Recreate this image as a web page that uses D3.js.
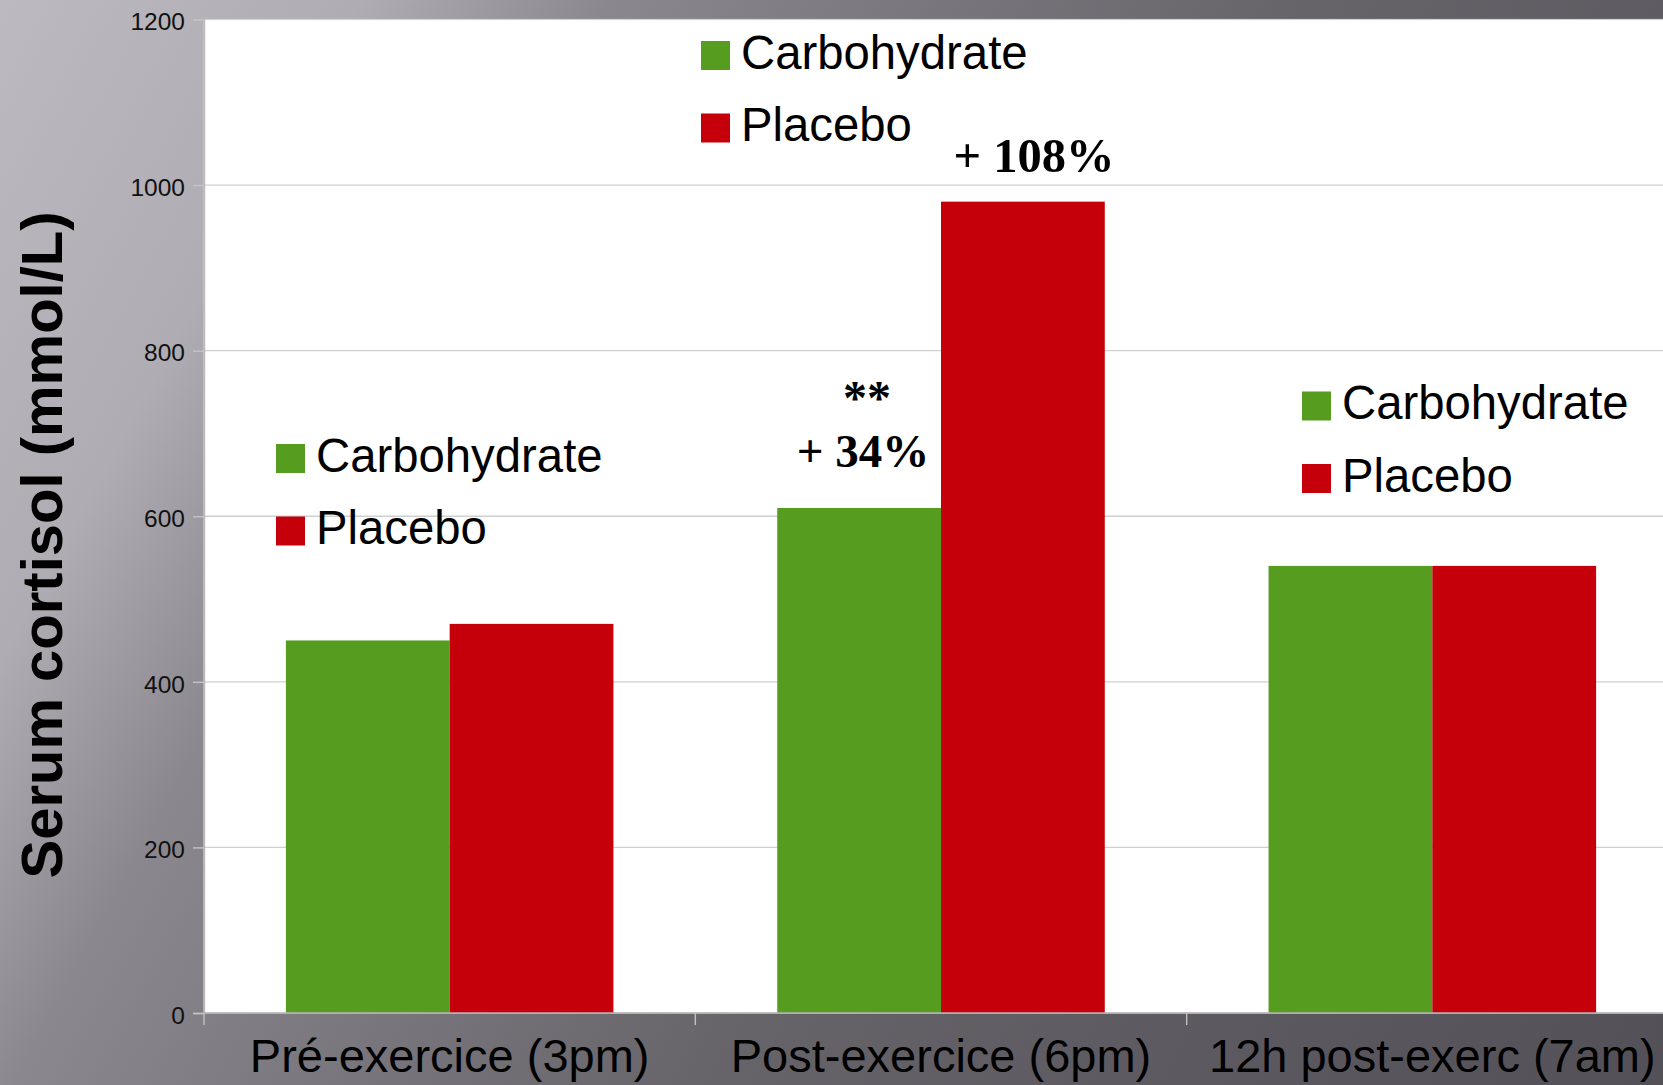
<!DOCTYPE html>
<html>
<head>
<meta charset="utf-8">
<script src="https://cdn.jsdelivr.net/npm/d3@7/dist/d3.min.js"></script>
<style>
  html, body { margin: 0; padding: 0; background: #7a787e; }
  svg { display: block; }
</style>
</head>
<body>
<svg id="chart" width="1663" height="1085"></svg>
<script>
// Serum cortisol by time point, carbohydrate vs placebo
const categories = ["Pré-exercice (3pm)", "Post-exercice (6pm)", "12h post-exerc (7am)"];
const seriesNames = ["Carbohydrate", "Placebo"];
const carbohydrate = [450, 610, 540];
const placebo = [470, 980, 540];
const yTicks = [0, 200, 400, 600, 800, 1000, 1200];
const yTitle = "Serum cortisol (mmol/L)";
// change annotations: [category, series, lines of text]
const annotations = [
  ["Post-exercice (6pm)", "Carbohydrate", ["**", "+ 34%"]],
  ["Post-exercice (6pm)", "Placebo", ["+ 108%"]]
];

const colors = { "Carbohydrate": "#569d1f", "Placebo": "#c5000b" };
const W = 1663, H = 1085;
const plot = { left: 204, top: 19.5, bottom: 1013, right: 1678 };
const sans = "'Liberation Sans', Arial, sans-serif";

const svg = d3.select("#chart");
const defs = svg.append("defs");

// slide background
const bg = defs.append("linearGradient").attr("id", "bg")
  .attr("gradientUnits", "userSpaceOnUse")
  .attr("x1", 0).attr("y1", 0).attr("x2", 1735).attr("y2", 954);
[[0, "#bcbac0"], [0.16, "#afadb3"], [0.27, "#8a888e"], [0.42, "#78767c"],
 [0.58, "#666469"], [0.74, "#5e5c62"], [1, "#535157"]]
  .forEach(([o, c]) => bg.append("stop").attr("offset", o).attr("stop-color", c));
svg.append("rect").attr("width", W).attr("height", H).attr("fill", "url(#bg)");

// plot area
svg.append("rect")
  .attr("x", plot.left).attr("y", plot.top)
  .attr("width", W - plot.left + 2).attr("height", plot.bottom - plot.top)
  .attr("fill", "#ffffff").attr("stroke", "#d2d2d2").attr("stroke-width", 1.2);

const x = d3.scaleBand().domain(categories).range([plot.left, plot.right]).padding(0);
const xs = d3.scaleBand().domain(seriesNames).range([0, x.bandwidth()])
  .paddingInner(0).paddingOuter(0.5);
const y = d3.scaleLinear().domain([0, 1200]).range([plot.bottom, plot.top]);

// gridlines
svg.append("g").selectAll("line").data(yTicks.filter(d => d > 0 && d < 1200)).join("line")
  .attr("x1", plot.left).attr("x2", W)
  .attr("y1", d => y(d)).attr("y2", d => y(d))
  .attr("stroke", "#d0d0d0").attr("stroke-width", 1.4);

// bars
const rows = categories.map((c, i) => ({ cat: c, values: [
  { s: "Carbohydrate", v: carbohydrate[i] },
  { s: "Placebo", v: placebo[i] }
]}));
svg.append("g").selectAll("g").data(rows).join("g")
  .attr("transform", d => `translate(${x(d.cat)},0)`)
  .selectAll("rect").data(d => d.values).join("rect")
  .attr("x", d => xs(d.s)).attr("width", xs.bandwidth())
  .attr("y", d => y(d.v)).attr("height", d => y(0) - y(d.v))
  .attr("fill", d => colors[d.s]);

// y axis
const yAxis = svg.append("g").attr("transform", `translate(${plot.left},0)`)
  .call(d3.axisLeft(y).tickValues(yTicks).tickFormat(d3.format("d")).tickSize(11).tickPadding(8));
yAxis.select(".domain").attr("stroke", "#b8b8b8").attr("stroke-width", 1.4);
yAxis.selectAll(".tick line").attr("stroke", "#c4c4c4").attr("stroke-width", 1.4);
yAxis.selectAll(".tick text")
  .attr("font-family", sans)
  .attr("font-size", 24.5).attr("fill", "#111").attr("dy", "0.42em");

// x axis: labels at band centres, ticks at band edges
const xAxis = svg.append("g").attr("transform", `translate(0,${plot.bottom})`)
  .call(d3.axisBottom(x).tickSize(0).tickPadding(26));
xAxis.select(".domain").remove();
xAxis.selectAll(".tick text")
  .attr("font-family", sans)
  .attr("font-size", 47).attr("fill", "#000");
svg.append("line")
  .attr("x1", plot.left).attr("x2", W)
  .attr("y1", plot.bottom).attr("y2", plot.bottom)
  .attr("stroke", "#b4b4b4").attr("stroke-width", 1.6);
svg.append("g").selectAll("line").data(categories).join("line")
  .attr("x1", d => x(d)).attr("x2", d => x(d))
  .attr("y1", plot.bottom).attr("y2", plot.bottom + 12)
  .attr("stroke", "#c0c0c0").attr("stroke-width", 1.4);

// y axis title
svg.append("text")
  .attr("transform", `translate(62,545) rotate(-90)`)
  .attr("text-anchor", "middle")
  .attr("font-family", sans)
  .attr("font-weight", "bold").attr("font-size", 58).attr("fill", "#000")
  .text(yTitle);

// legends
const legendSpots = [[701, 41], [276, 444], [1302, 391.5]];
legendSpots.forEach(([lx, ly]) => {
  const g = svg.append("g").attr("transform", `translate(${lx},${ly})`);
  seriesNames.forEach((s, i) => {
    g.append("rect").attr("x", 0).attr("y", i * 72.5).attr("width", 29).attr("height", 29)
      .attr("fill", colors[s]);
    g.append("text").attr("x", 40).attr("y", i * 72.5 + 27.8)
      .attr("font-family", sans)
      .attr("font-size", 47.3).attr("fill", "#000").text(s);
  });
});

// change annotations above bars
const annoFont = "'Liberation Serif', 'Times New Roman', serif";
annotations.forEach(([cat, s, lines]) => {
  const i = categories.indexOf(cat);
  const v = (s === "Carbohydrate" ? carbohydrate : placebo)[i];
  const cx = x(cat) + xs(s) + xs.bandwidth() / 2;
  const top = y(v);
  const g = svg.append("g").attr("font-family", annoFont).attr("font-weight", "bold")
    .attr("fill", "#000").attr("text-anchor", "middle");
  if (lines.length === 2) {
    g.append("text").attr("x", cx + 8).attr("y", top - 94).attr("font-size", 48).text(lines[0]);
    g.append("text").attr("x", cx + 4).attr("y", top - 40.5).attr("font-size", 47).text(lines[1]);
  } else {
    g.append("text").attr("x", cx + 11).attr("y", top - 29.5).attr("font-size", 48.5).text(lines[0]);
  }
});
</script>
</body>
</html>
